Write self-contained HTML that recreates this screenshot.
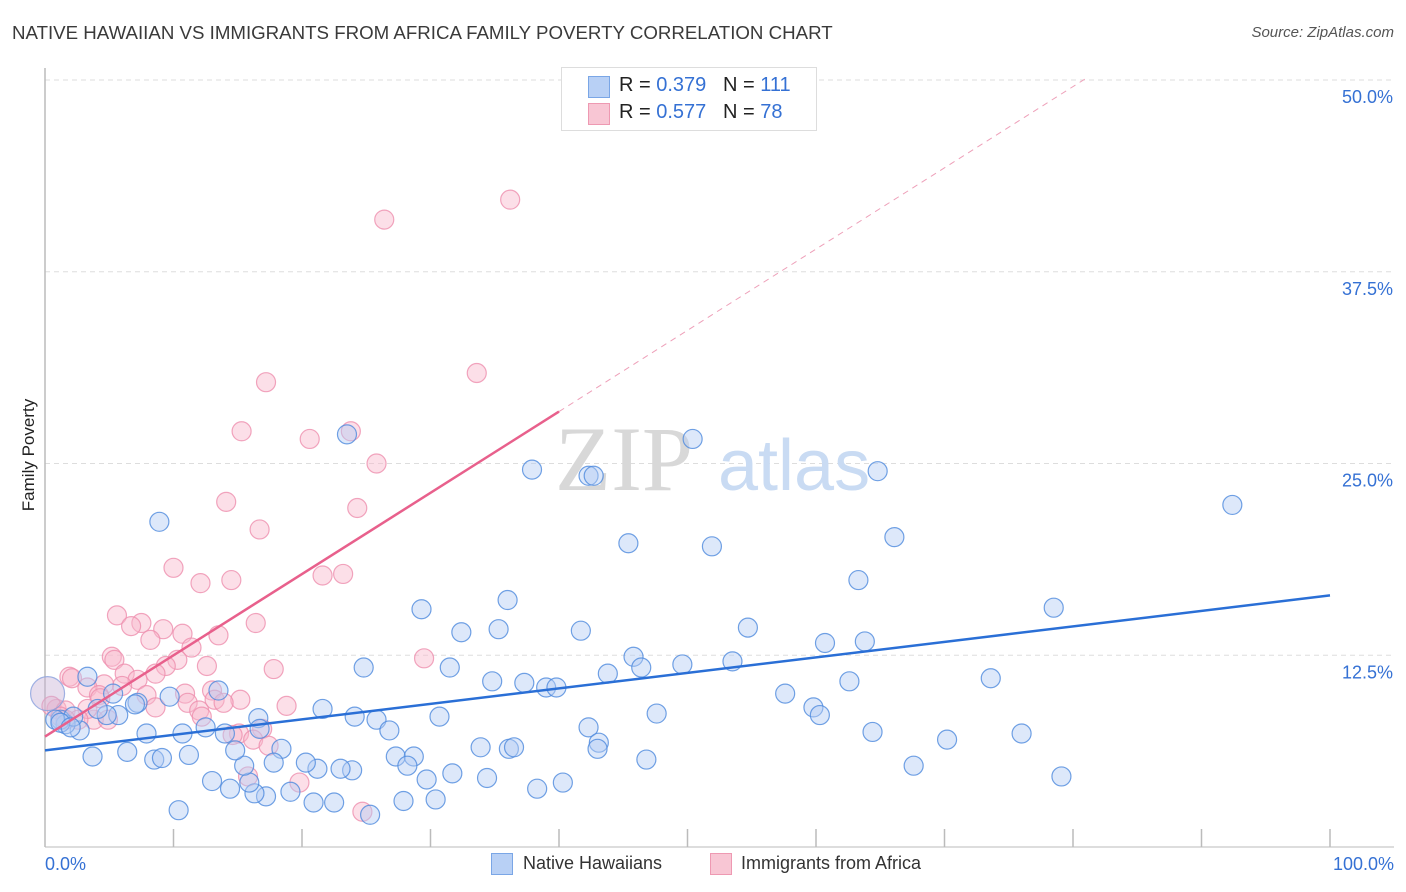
<!DOCTYPE html>
<html><head><meta charset="utf-8"><style>
body{margin:0;background:#fff;font-family:"Liberation Sans",sans-serif;}
#wrap{position:relative;width:1406px;height:892px;overflow:hidden;}
.t{position:absolute;white-space:nowrap;}
</style></head><body>
<div id="wrap">
<div class="t" style="left:12px;top:22px;font-size:18.7px;color:#3a3a3a;">NATIVE HAWAIIAN VS IMMIGRANTS FROM AFRICA FAMILY POVERTY CORRELATION CHART</div>
<div class="t" style="right:12px;top:24px;font-size:15px;color:#555;font-style:italic;">Source: ZipAtlas.com</div>
<svg id="svg" width="1406" height="892" style="position:absolute;left:0;top:0"></svg>
<div class="t" style="left:-27px;top:445px;font-size:17px;color:#222;transform:rotate(-90deg);">Family Poverty</div>
<div style="position:absolute;left:561px;top:67px;width:254px;height:62px;border:1px solid #ddd;background:#fff;font-size:20px;">
 <div style="position:absolute;left:26px;top:8px;width:20px;height:20px;background:#b8d0f5;border:1px solid #7aa6e6;"></div>
 <div class="t" style="left:57px;top:6px;color:#222;">R = <span style="color:#3571d4">0.379</span>&nbsp;&nbsp;&nbsp;N = <span style="color:#3571d4">111</span></div>
 <div style="position:absolute;left:26px;top:35px;width:20px;height:20px;background:#f8c6d4;border:1px solid #ee99b2;"></div>
 <div class="t" style="left:57px;top:33px;color:#222;">R = <span style="color:#3571d4">0.577</span>&nbsp;&nbsp;&nbsp;N = <span style="color:#3571d4">78</span></div>
</div>
<div style="position:absolute;left:491px;top:853px;width:20px;height:20px;background:#b8d0f5;border:1px solid #7aa6e6;"></div>
<div class="t" style="left:523px;top:853px;font-size:18px;color:#333;">Native Hawaiians</div>
<div style="position:absolute;left:710px;top:853px;width:20px;height:20px;background:#f8c6d4;border:1px solid #ee99b2;"></div>
<div class="t" style="left:741px;top:853px;font-size:18px;color:#333;">Immigrants from Africa</div>
</div>
<script>
const yTicks=[12.5,25,37.5,50];
const yTickLabels=["12.5%","25.0%","37.5%","50.0%"];
const xEndLabels=["0.0%","100.0%"];
const blueX=[8.9,23.5,37.9,42.3,42.7,50.4,64.8,92.4,45.4,51.9,66.1,63.3,78.5,36.0,29.3,32.4,35.3,41.7,54.7,60.7,63.8,45.8,46.4,49.6,53.5,43.8,31.5,24.8,34.8,37.3,39.0,39.8,57.6,62.6,73.6,59.8,60.3,47.6,30.7,24.1,21.6,25.8,26.8,42.3,43.1,43.0,64.4,70.2,76.0,79.1,67.6,46.8,40.3,38.3,34.4,31.7,29.7,30.4,27.9,27.3,28.7,28.2,33.9,36.1,36.5,23.9,23.0,21.2,20.3,18.4,17.8,19.1,17.2,16.3,15.9,15.5,14.8,14.4,13.0,20.9,22.5,25.3,10.4,11.2,10.7,12.5,14.0,16.6,16.7,13.5,9.7,7.2,7.9,6.4,8.5,9.1,3.7,5.7,4.8,4.1,5.3,3.3,2.7,1.6,1.2,2.2,0.8,7.0,1.2,2.0];
const blueY=[21.2,26.9,24.6,24.2,24.2,26.6,24.5,22.3,19.8,19.6,20.2,17.4,15.6,16.1,15.5,14.0,14.2,14.1,14.3,13.3,13.4,12.4,11.7,11.9,12.1,11.3,11.7,11.7,10.8,10.7,10.4,10.4,10.0,10.8,11.0,9.1,8.6,8.7,8.5,8.5,9.0,8.3,7.6,7.8,6.8,6.4,7.5,7.0,7.4,4.6,5.3,5.7,4.2,3.8,4.5,4.8,4.4,3.1,3.0,5.9,5.9,5.3,6.5,6.4,6.5,5.0,5.1,5.1,5.5,6.4,5.5,3.6,3.3,3.5,4.2,5.3,6.3,3.8,4.3,2.9,2.9,2.1,2.4,6.0,7.4,7.8,7.4,8.4,7.7,10.2,9.8,9.4,7.4,6.2,5.7,5.8,5.9,8.6,8.6,9.0,10.0,11.1,7.6,8.0,8.3,8.5,8.3,9.3,8.1,7.8];
const pinkX=[36.2,26.4,17.2,33.6,15.3,20.6,23.8,25.8,14.1,24.3,16.7,10.0,21.6,23.2,14.5,12.1,5.6,7.5,6.7,16.4,9.2,10.7,13.5,8.2,11.4,29.5,17.8,12.6,10.3,9.4,8.6,5.2,5.4,6.2,7.2,6.0,4.6,1.9,2.1,3.3,4.2,7.9,10.9,13.0,13.2,15.2,11.1,8.6,12.0,12.2,13.9,18.8,15.1,14.6,16.9,16.2,17.4,3.8,3.3,0.9,0.5,1.6,2.6,4.9,15.8,19.8,24.7,1.2,1.6,4.3];
const pinkY=[42.2,40.9,30.3,30.9,27.1,26.6,27.1,25.0,22.5,22.1,20.7,18.2,17.7,17.8,17.4,17.2,15.1,14.6,14.4,14.6,14.2,13.9,13.8,13.5,13.0,12.3,11.6,11.8,12.2,11.8,11.3,12.4,12.2,11.3,10.9,10.5,10.6,11.1,11.0,10.4,9.9,9.9,10.0,10.2,9.6,9.6,9.4,9.1,8.9,8.5,9.4,9.2,7.4,7.3,7.7,7.0,6.6,8.3,9.0,9.0,9.2,8.9,8.3,8.3,4.6,4.2,2.3,8.5,8.3,9.7];
const bigX=[0.2],bigY=[10.0];
const blueFit=[6.3,16.4];
const pinkFit=[7.2,50.1];
const L=45,R=1330,T=80,B=847;
const sx=v=>L+(R-L)*v/100, sy=v=>B-(B-T)*v/50;
const svg=document.getElementById('svg');const NS='http://www.w3.org/2000/svg';
function mk(tag,attrs){const e=document.createElementNS(NS,tag);for(const k in attrs)e.setAttribute(k,attrs[k]);svg.appendChild(e);return e;}
yTicks.forEach((v,i)=>{
 const g=mk('line',{x1:L,x2:1394,y1:sy(v),y2:sy(v),stroke:'#ddd','stroke-dasharray':'5,4','stroke-width':1});
 
 
 const t=mk('text',{x:1393,y:sy(v)+23,'text-anchor':'end','font-size':18,fill:'#3571d4','font-family':'Liberation Sans, sans-serif'});
 t.textContent=yTickLabels[i];
 
 
});
const ax=mk('line',{x1:L,x2:L,y1:68,y2:B,stroke:'#bbb','stroke-width':1.5});


const bx=mk('line',{x1:L,x2:1394,y1:B,y2:B,stroke:'#bbb','stroke-width':1});


for(let i=1;i<=10;i++){const tk=mk('line',{x1:sx(i*10),x2:sx(i*10),y1:829,y2:B,stroke:'#bbb','stroke-width':1.5});
 
 }
[[0,xEndLabels[0],'start',45],[100,xEndLabels[1],'end',1394]].forEach(a=>{const t=mk('text',{x:a[3],y:870,'text-anchor':a[2],'font-size':18,fill:'#3571d4','font-family':'Liberation Sans, sans-serif'});t.textContent=a[1];
 
 });
const w1=mk('text',{x:555,y:490,'font-size':92,fill:'#d8d8d8','font-family':'Liberation Serif, serif'});w1.textContent='ZIP';


const w2=mk('text',{x:718,y:490,'font-size':72,fill:'#c9dbf3','font-family':'Liberation Sans, sans-serif'});w2.textContent='atlas';


function dots(X,Y,fill,stroke,name,r){X.forEach((x,i)=>{const c=mk('circle',{cx:sx(x),cy:sy(Y[i]),r:r,fill:fill,'fill-opacity':0.45,stroke:stroke,'stroke-opacity':0.8,'stroke-width':1.2});
 
 });}
dots(pinkX,pinkY,'#f8b9cc','#ee8fae','pink-point',9.5);
dots(blueX,blueY,'#b3cdf3','#4d89dd','blue-point',9.5);
dots(bigX,bigY,'#c9b4d6','#8aa0dd','big-point',17);
const bl=mk('line',{x1:sx(0),y1:sy(blueFit[0]),x2:sx(100),y2:sy(blueFit[1]),stroke:'#2a6fd6','stroke-width':2.5});


const pm=x=>pinkFit[0]+(pinkFit[1]-pinkFit[0])*x/81;
const pl=mk('line',{x1:sx(0),y1:sy(pm(0)),x2:sx(40),y2:sy(pm(40)),stroke:'#e8608c','stroke-width':2.5});


const pd=mk('line',{x1:sx(40),y1:sy(pm(40)),x2:sx(81),y2:sy(pm(81)),stroke:'#eea0b9','stroke-width':1,'stroke-dasharray':'6,5'});


</script>
</body></html>
